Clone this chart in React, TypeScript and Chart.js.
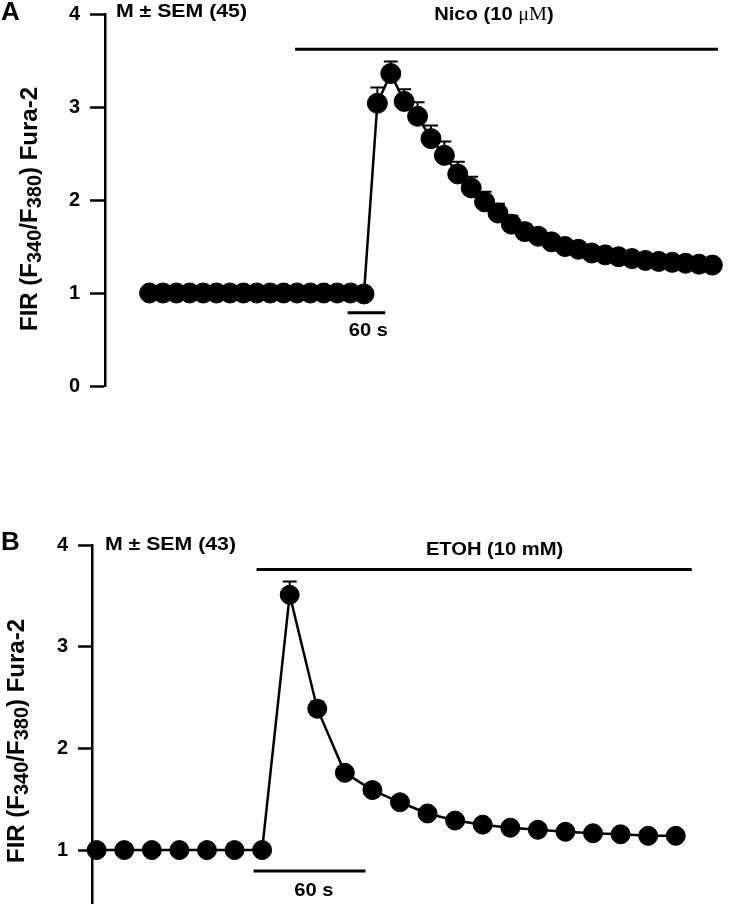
import React, { useEffect, useRef } from "react";
import { Chart, registerables } from "chart.js";

Chart.register(...registerables);

// ---------------- Panel A : Nico (10 µM), n = 45 ----------------
const nicoValues = [
  1.0, 1.0, 1.0, 1.0, 1.0, 1.0, 1.0, 1.0, 1.0, 1.0, 1.0, 1.0, 1.0, 1.0, 1.0, 1.0, 0.99,
  3.04, 3.36, 3.06, 2.9, 2.66, 2.48, 2.28, 2.13, 1.98, 1.86, 1.74, 1.66, 1.61, 1.55,
  1.5, 1.47, 1.43, 1.41, 1.39, 1.37, 1.35, 1.34, 1.33, 1.32, 1.31, 1.3,
];
const nicoSem = [
  0.02, 0.02, 0.02, 0.02, 0.02, 0.02, 0.02, 0.02, 0.02, 0.02, 0.02, 0.02, 0.02, 0.02, 0.02, 0.02, 0.02,
  0.17, 0.13, 0.13, 0.15, 0.14, 0.15, 0.13, 0.12, 0.11, 0.1, 0.09, 0.08, 0.07, 0.06,
  0.06, 0.05, 0.05, 0.05, 0.04, 0.04, 0.04, 0.04, 0.04, 0.04, 0.04, 0.04,
];
const nicoYTicks = [0, 1, 2, 3, 4];

// ---------------- Panel B : ETOH (10 mM), n = 43 ----------------
const etohValues = [
  1.0, 1.0, 1.0, 1.0, 1.0, 1.0, 1.0,
  3.51, 2.39, 1.76, 1.59, 1.47, 1.36, 1.29, 1.25, 1.22, 1.2, 1.18, 1.165, 1.155, 1.14, 1.14,
];
const etohSem = [
  0.02, 0.02, 0.02, 0.02, 0.02, 0.02, 0.02,
  0.13, 0.07, 0.05, 0.04, 0.04, 0.03, 0.03, 0.03, 0.03, 0.03, 0.03, 0.03, 0.03, 0.03, 0.03,
];
const etohYTicks = [1, 2, 3, 4];

const SANS = "'Liberation Sans', Arial, Helvetica, sans-serif";
const SERIF = "'Liberation Serif', 'Times New Roman', serif";
const STRETCH = 1.12;

type Seg = { t: string; font: string; dy?: number };

const titleSegs: Seg[] = [
  { t: "FIR (F", font: `bold 24px ${SANS}` },
  { t: "340", font: `bold 20px ${SANS}`, dy: 5 },
  { t: "/F", font: `bold 24px ${SANS}` },
  { t: "380", font: `bold 20px ${SANS}`, dy: 5 },
  { t: ") Fura-2", font: `bold 24px ${SANS}` },
];

type Label = { segs: Seg[]; x: number; y: number; align: "left" | "center" };
type Bar = { x0: number; x1: number; y: number };

interface PanelCfg {
  values: number[];
  sem: number[];
  yTicks: number[];
  yMin: number;
  yMax: number;
  xMin: number;
  xMax: number;
  axisWidth: number;
  tickLength: number;
  padding: { top: number; bottom: number; left: number; right: number };
  pointRadius: number;
  capHalf: number;
  letter: string;
  letterPos: [number, number];
  titlePos: [number, number];
  labels: Label[];
  bars: Bar[];
}

const bold = (px: number) => `bold ${px}px ${SANS}`;

const panelA: PanelCfg = {
  values: nicoValues,
  sem: nicoSem,
  yTicks: nicoYTicks,
  yMin: 0,
  yMax: 4,
  xMin: -3.326,
  xMax: 42.42,
  axisWidth: 105,
  tickLength: 15,
  padding: { top: 14, bottom: 71, left: 0, right: 5 },
  pointRadius: 10,
  capHalf: 7,
  letter: "A",
  letterPos: [1, 13],
  titlePos: [30, 209],
  labels: [
    { segs: [{ t: "M ± SEM (45)", font: bold(19) }], x: -2.51, y: 4.02, align: "left" },
    {
      segs: [
        { t: "Nico (10 ", font: bold(18) },
        { t: "μM", font: `18px ${SERIF}` },
        { t: ")", font: bold(18) },
      ],
      x: 25.7,
      y: 3.99,
      align: "center",
    },
    { segs: [{ t: "60 s", font: bold(18) }], x: 16.33, y: 0.59, align: "center" },
  ],
  bars: [
    { x0: 10.86, x1: 42.42, y: 3.62 },
    { x0: 14.78, x1: 17.59, y: 0.788 },
  ],
};

const panelB: PanelCfg = {
  values: etohValues,
  sem: etohSem,
  yTicks: etohYTicks,
  yMin: 0.4745,
  yMax: 4,
  xMin: -0.169,
  xMax: 22.55,
  axisWidth: 92,
  tickLength: 14,
  padding: { top: 88, bottom: 0, left: 0, right: 5 },
  pointRadius: 9.5,
  capHalf: 7,
  letter: "B",
  letterPos: [1, 86],
  titlePos: [17, 284],
  labels: [
    { segs: [{ t: "M ± SEM (43)", font: bold(19) }], x: 0.3, y: 4.0, align: "left" },
    { segs: [{ t: "ETOH (10 mM)", font: bold(18) }], x: 14.43, y: 3.95, align: "center" },
    { segs: [{ t: "60 s", font: bold(18) }], x: 7.88, y: 0.593, align: "center" },
  ],
  bars: [
    { x0: 5.8, x1: 21.58, y: 3.76 },
    { x0: 5.69, x1: 9.75, y: 0.793 },
  ],
};

function drawSegs(
  ctx: CanvasRenderingContext2D,
  segs: Seg[],
  x: number,
  y: number,
  align: "left" | "center",
  stretch: number,
  rotate = 0
) {
  ctx.save();
  ctx.translate(x, y);
  if (rotate) ctx.rotate(rotate);
  ctx.scale(stretch, 1);
  let total = 0;
  const widths = segs.map((s) => {
    ctx.font = s.font;
    const w = ctx.measureText(s.t).width;
    total += w;
    return w;
  });
  let cx = align === "center" ? -total / 2 : 0;
  ctx.textAlign = "left";
  ctx.textBaseline = "middle";
  ctx.fillStyle = "#000";
  segs.forEach((s, i) => {
    ctx.font = s.font;
    ctx.fillText(s.t, cx, s.dy || 0);
    cx += widths[i];
  });
  ctx.restore();
}

function makeDeco(cfg: PanelCfg) {
  return {
    id: "deco" + cfg.letter,
    beforeDatasetsDraw(chart: any) {
      const { ctx } = chart;
      const x = chart.scales.x;
      const y = chart.scales.y;
      ctx.save();
      ctx.strokeStyle = "#000";
      ctx.lineWidth = 2;
      cfg.values.forEach((v, i) => {
        const px = x.getPixelForValue(i);
        const py = y.getPixelForValue(v);
        const pt = y.getPixelForValue(v + cfg.sem[i]);
        ctx.beginPath();
        ctx.moveTo(px, py);
        ctx.lineTo(px, pt);
        ctx.moveTo(px - cfg.capHalf, pt);
        ctx.lineTo(px + cfg.capHalf, pt);
        ctx.stroke();
      });
      ctx.restore();
    },
    afterDraw(chart: any) {
      const { ctx } = chart;
      const x = chart.scales.x;
      const y = chart.scales.y;
      ctx.save();
      ctx.strokeStyle = "#000";
      ctx.lineWidth = 3;
      cfg.bars.forEach((b) => {
        const py = y.getPixelForValue(b.y);
        ctx.beginPath();
        ctx.moveTo(x.getPixelForValue(b.x0), py);
        ctx.lineTo(x.getPixelForValue(b.x1), py);
        ctx.stroke();
      });
      cfg.labels.forEach((l) => {
        drawSegs(ctx, l.segs, x.getPixelForValue(l.x), y.getPixelForValue(l.y), l.align, STRETCH);
      });
      drawSegs(ctx, [{ t: cfg.letter, font: bold(26) }], cfg.letterPos[0], cfg.letterPos[1], "left", 1.0);
      drawSegs(ctx, titleSegs, cfg.titlePos[0], cfg.titlePos[1], "center", 1.0, -Math.PI / 2);
      ctx.restore();
    },
  };
}

function buildConfig(cfg: PanelCfg): any {
  return {
    type: "line",
    data: {
      datasets: [
        {
          data: cfg.values.map((v, i) => ({ x: i, y: v })),
          borderColor: "#000",
          borderWidth: 2.5,
          backgroundColor: "#000",
          pointRadius: cfg.pointRadius,
          pointBorderWidth: 1,
          pointBackgroundColor: "#000",
          pointBorderColor: "#000",
          pointHoverRadius: cfg.pointRadius,
          tension: 0,
          clip: false,
        },
      ],
    },
    options: {
      responsive: false,
      devicePixelRatio: 1,
      animation: false,
      events: [],
      layout: { padding: cfg.padding },
      plugins: { legend: { display: false }, tooltip: { enabled: false } },
      scales: {
        x: { type: "linear", display: false, min: cfg.xMin, max: cfg.xMax },
        y: {
          type: "linear",
          min: cfg.yMin,
          max: cfg.yMax,
          afterBuildTicks: (s: any) => {
            s.ticks = cfg.yTicks.map((v) => ({ value: v }));
          },
          afterFit: (s: any) => {
            s.width = cfg.axisWidth;
            s.paddingTop = 0;
            s.paddingBottom = 0;
          },
          border: { display: true, color: "#000", width: 2.5 },
          grid: {
            display: true,
            drawOnChartArea: false,
            drawTicks: true,
            tickLength: cfg.tickLength,
            tickWidth: 2.5,
            tickColor: "#000",
          },
          ticks: {
            color: "#000",
            padding: 10,
            font: { family: SANS, size: 20, weight: "bold" },
          },
        },
      },
    },
    plugins: [makeDeco(cfg)],
  };
}

function Panel({ cfg, top }: { cfg: PanelCfg; top: number }) {
  const ref = useRef<HTMLCanvasElement>(null);
  useEffect(() => {
    const chart = new Chart(ref.current as HTMLCanvasElement, buildConfig(cfg));
    return () => chart.destroy();
  }, [cfg]);
  return (
    <canvas
      ref={ref}
      width={729}
      height={457}
      style={{ position: "absolute", left: 0, top, width: 729, height: 457, display: "block" }}
    />
  );
}

export default function App() {
  return (
    <div style={{ position: "absolute", left: 0, top: 0, width: 729, height: 914, background: "#fff" }}>
      <Panel cfg={panelA} top={0} />
      <Panel cfg={panelB} top={457} />
    </div>
  );
}
